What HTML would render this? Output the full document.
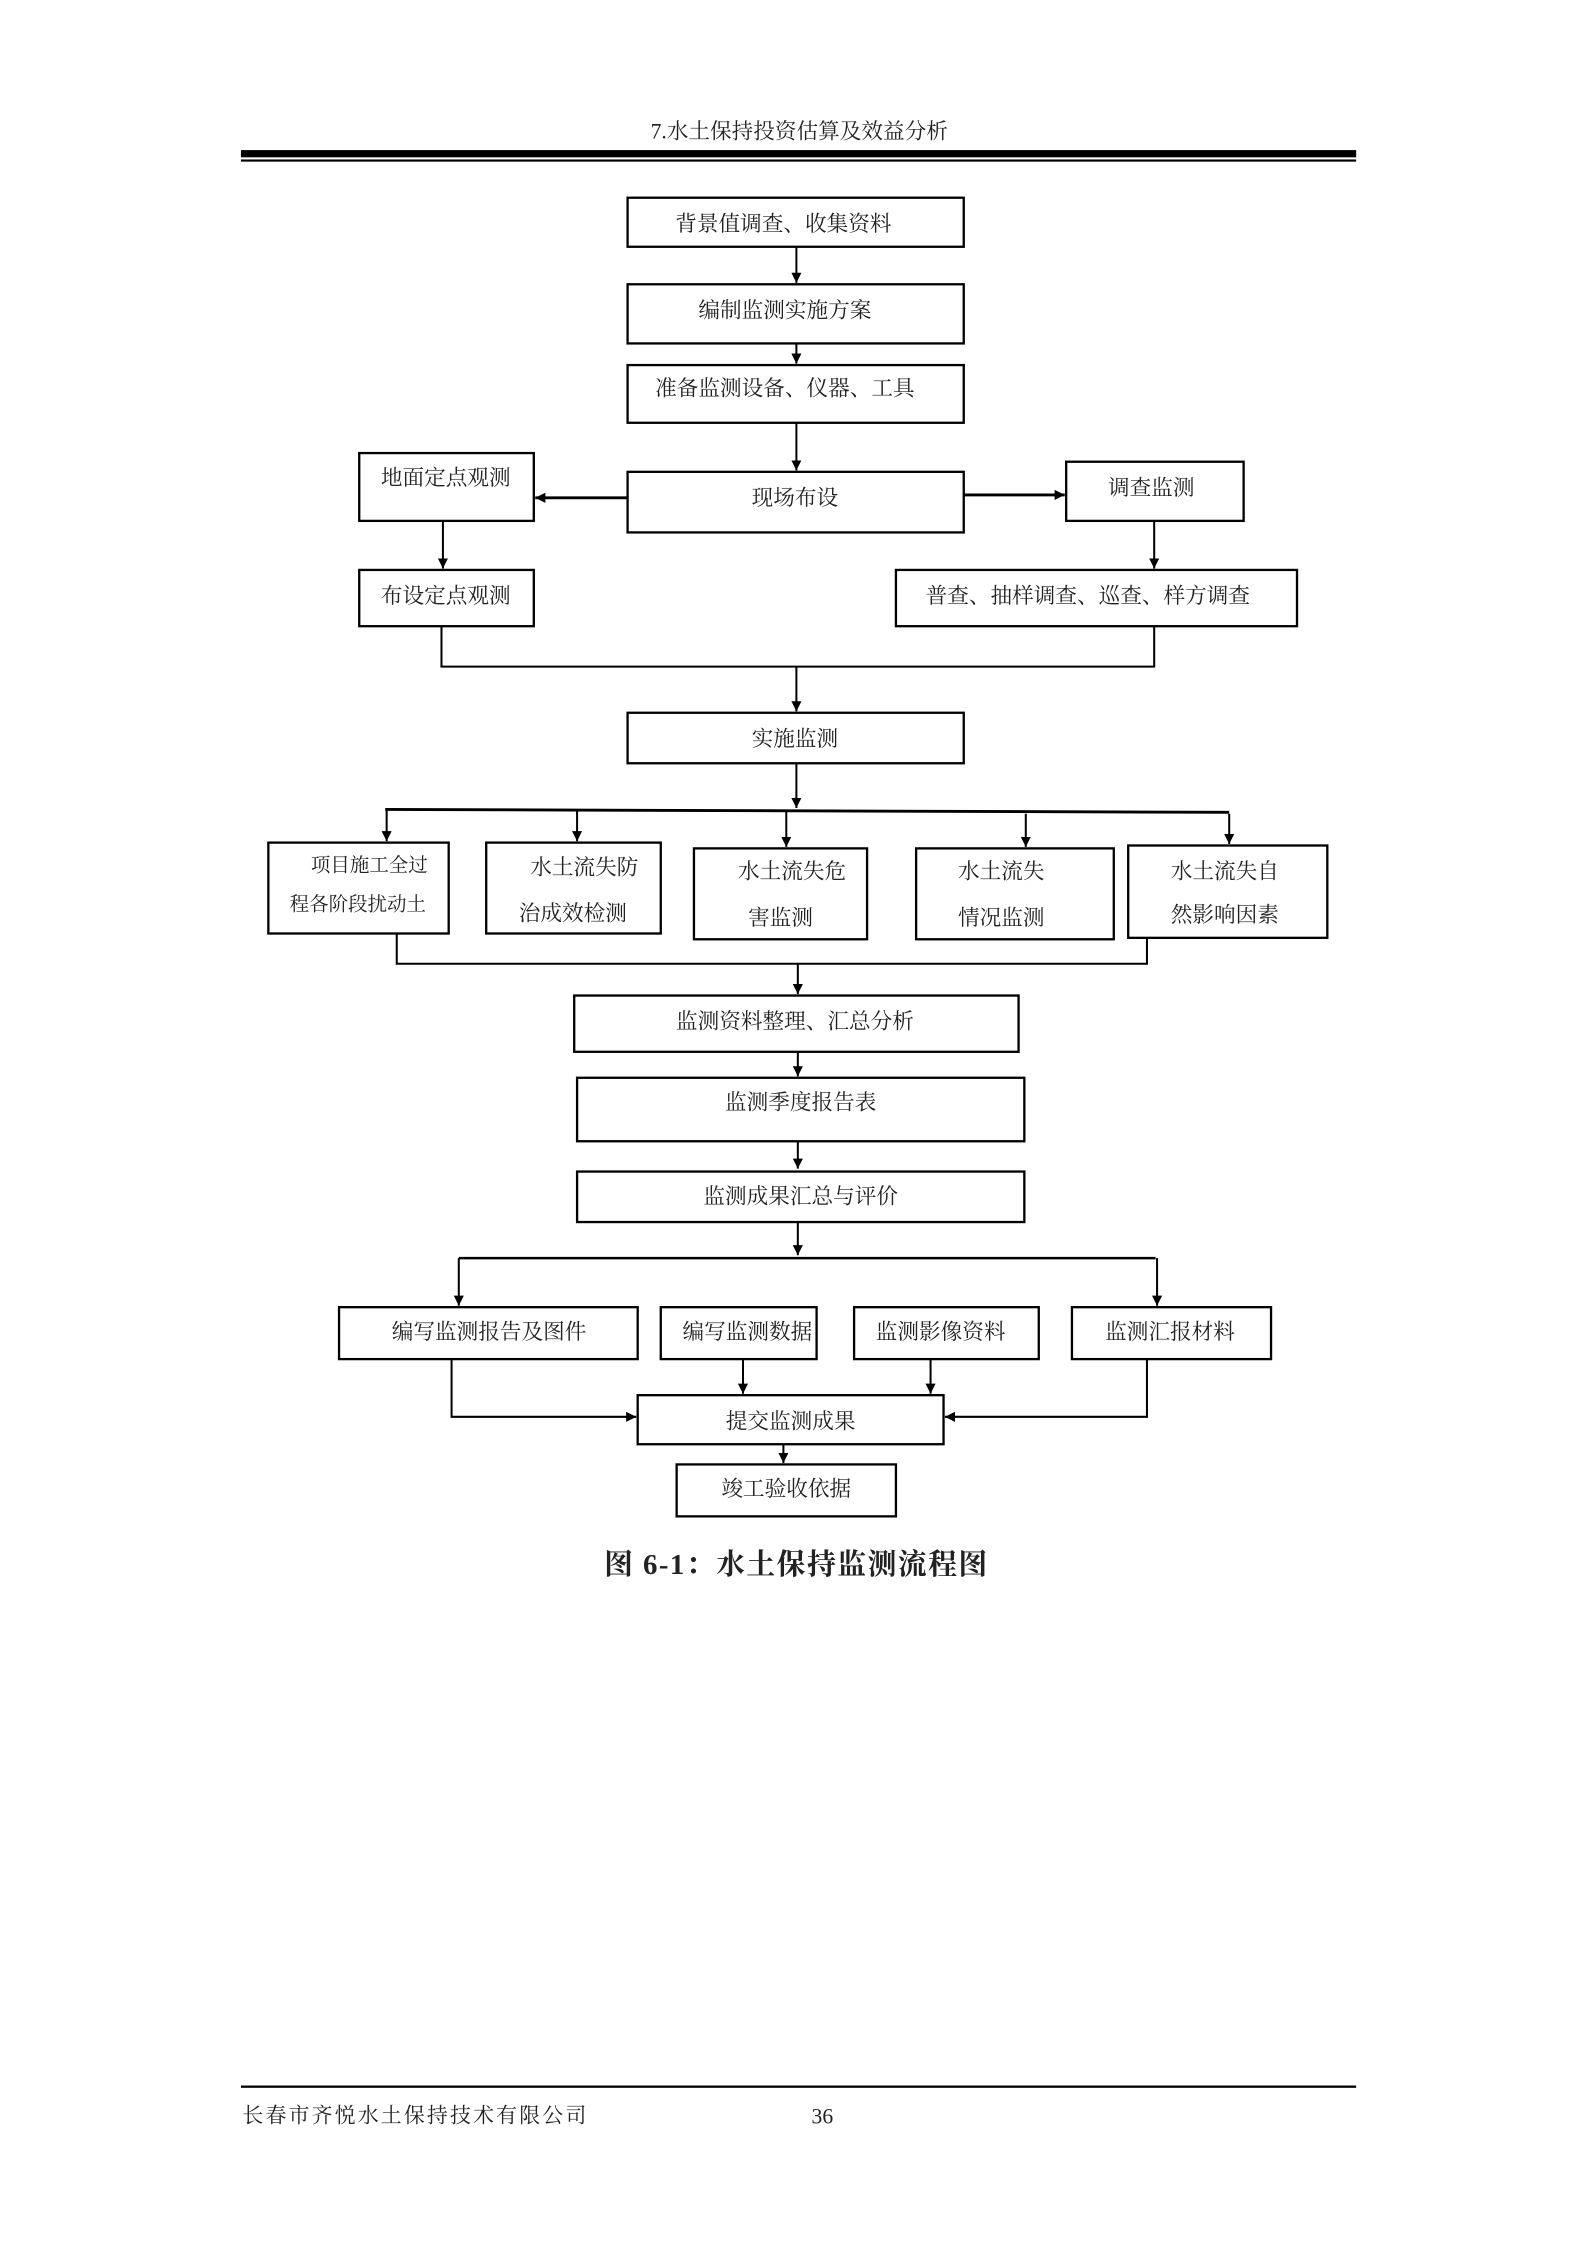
<!DOCTYPE html>
<html><head><meta charset="utf-8"><style>
html,body{margin:0;padding:0;background:#fff;}
svg{display:block;}
text{font-family:"Liberation Serif","Noto Serif CJK SC",serif;fill:#222;}
</style></head><body>
<svg width="1587" height="2245" viewBox="0 0 1100 1556" xmlns="http://www.w3.org/2000/svg">
<defs>
<marker id="a" viewBox="0 0 10 10" refX="10" refY="5" markerWidth="7" markerHeight="7" markerUnits="userSpaceOnUse" orient="auto"><path d="M0,0 L10,5 L0,10 z" fill="#000"/></marker>
</defs>
<text x="554" y="96" font-size="15" text-anchor="middle">7.水土保持投资估算及效益分析</text>
<rect x="167" y="104" width="773" height="5" fill="#000"/>
<rect x="167" y="110.5" width="773" height="1.5" fill="#000"/>

<g fill="none" stroke="#000" stroke-width="1.6">
<rect x="435" y="137" width="233" height="34"/>
<rect x="435" y="197" width="233" height="41"/>
<rect x="435" y="253" width="233" height="40"/>
<rect x="435" y="327" width="233" height="42"/>
<rect x="249" y="314" width="121" height="47"/>
<rect x="739" y="320" width="123" height="41"/>
<rect x="249" y="395" width="121" height="39"/>
<rect x="621" y="395" width="278" height="39"/>
<rect x="435" y="494" width="233" height="35"/>
<rect x="186" y="584" width="125" height="63"/>
<rect x="337" y="584" width="121" height="63"/>
<rect x="481" y="588" width="120" height="63"/>
<rect x="635" y="588" width="137" height="63"/>
<rect x="782" y="586" width="138" height="64"/>
<rect x="398" y="690" width="308" height="39"/>
<rect x="400" y="747" width="310" height="44"/>
<rect x="400" y="812" width="310" height="35"/>
<rect x="235" y="906" width="207" height="36"/>
<rect x="458" y="906" width="108" height="36"/>
<rect x="592" y="906" width="128" height="36"/>
<rect x="743" y="906" width="138" height="36"/>
<rect x="442" y="967" width="212" height="34"/>
<rect x="469" y="1015" width="152" height="36"/>
</g>

<g fill="none" stroke="#000" stroke-width="1.4">
<line x1="552" y1="171" x2="552" y2="196" marker-end="url(#a)"/>
<line x1="552" y1="238" x2="552" y2="252" marker-end="url(#a)"/>
<line x1="552" y1="293" x2="552" y2="326" marker-end="url(#a)"/>
<line x1="435" y1="345" x2="371" y2="345" marker-end="url(#a)" stroke-width="2"/>
<line x1="668" y1="343" x2="738" y2="343" marker-end="url(#a)" stroke-width="2"/>
<line x1="307" y1="361" x2="307" y2="394" marker-end="url(#a)"/>
<line x1="800" y1="361" x2="800" y2="394" marker-end="url(#a)"/>
<polyline points="306,434 306,462 800,462 800,434"/>
<line x1="552" y1="462" x2="552" y2="493" marker-end="url(#a)"/>
<line x1="552" y1="529" x2="552" y2="560" marker-end="url(#a)"/>
<line x1="267" y1="561" x2="852" y2="563" stroke-width="2"/>
<line x1="268" y1="561" x2="268" y2="583" marker-end="url(#a)"/>
<line x1="400" y1="562" x2="400" y2="583" marker-end="url(#a)"/>
<line x1="545" y1="562" x2="545" y2="587" marker-end="url(#a)"/>
<line x1="711" y1="564" x2="711" y2="587" marker-end="url(#a)"/>
<line x1="852" y1="564" x2="852" y2="585" marker-end="url(#a)"/>
<polyline points="275,647 275,668 795,668 795,650"/>
<line x1="553" y1="668" x2="553" y2="689" marker-end="url(#a)"/>
<line x1="553" y1="729" x2="553" y2="746" marker-end="url(#a)"/>
<line x1="553" y1="791" x2="553" y2="810" marker-end="url(#a)"/>
<line x1="553" y1="847" x2="553" y2="870" marker-end="url(#a)"/>
<line x1="318" y1="872" x2="801" y2="872" stroke-width="1.8"/>
<line x1="318" y1="872" x2="318" y2="905" marker-end="url(#a)"/>
<line x1="802" y1="872" x2="802" y2="905" marker-end="url(#a)"/>
<polyline points="313,942 313,982 441,982" marker-end="url(#a)"/>
<line x1="515" y1="942" x2="515" y2="966" marker-end="url(#a)"/>
<line x1="645" y1="942" x2="645" y2="966" marker-end="url(#a)"/>
<polyline points="795,942 795,982 655,982" marker-end="url(#a)"/>
<line x1="543" y1="1001" x2="543" y2="1014" marker-end="url(#a)"/>
</g>

<g font-size="15" text-anchor="middle">
<text x="543" y="160">背景值调查、收集资料</text>
<text x="544" y="220">编制监测实施方案</text>
<text x="544" y="274">准备监测设备、仪器、工具</text>
<text x="551" y="350">现场布设</text>
<text x="309" y="336">地面定点观测</text>
<text x="798" y="343">调查监测</text>
<text x="309" y="418">布设定点观测</text>
<text x="754" y="418">普查、抽样调查、巡查、样方调查</text>
<text x="551" y="517">实施监测</text>
<text x="256" y="604" font-size="13.5">项目施工全过</text>
<text x="248" y="631" font-size="13.5">程各阶段扰动土</text>
<text x="405" y="606">水土流失防</text>
<text x="397" y="638">治成效检测</text>
<text x="549" y="609">水土流失危</text>
<text x="541" y="641">害监测</text>
<text x="694" y="609">水土流失</text>
<text x="694" y="641">情况监测</text>
<text x="849" y="609">水土流失自</text>
<text x="849" y="639">然影响因素</text>
<text x="551" y="713">监测资料整理、汇总分析</text>
<text x="555" y="769">监测季度报告表</text>
<text x="555" y="834">监测成果汇总与评价</text>
<text x="339" y="928">编写监测报告及图件</text>
<text x="518" y="928">编写监测数据</text>
<text x="652" y="928">监测影像资料</text>
<text x="811" y="928">监测汇报材料</text>
<text x="548" y="990">提交监测成果</text>
<text x="545" y="1037">竣工验收依据</text>
</g>
<text x="552" y="1091" font-size="20" font-weight="bold" letter-spacing="1" text-anchor="middle">图 6-1：水土保持监测流程图</text>

<rect x="167" y="1445.5" width="773" height="1.6" fill="#000"/>
<text x="168" y="1471" font-size="14.5" letter-spacing="1.5">长春市齐悦水土保持技术有限公司</text>
<text x="570" y="1472" font-size="15" text-anchor="middle">36</text>
</svg>
</body></html>
